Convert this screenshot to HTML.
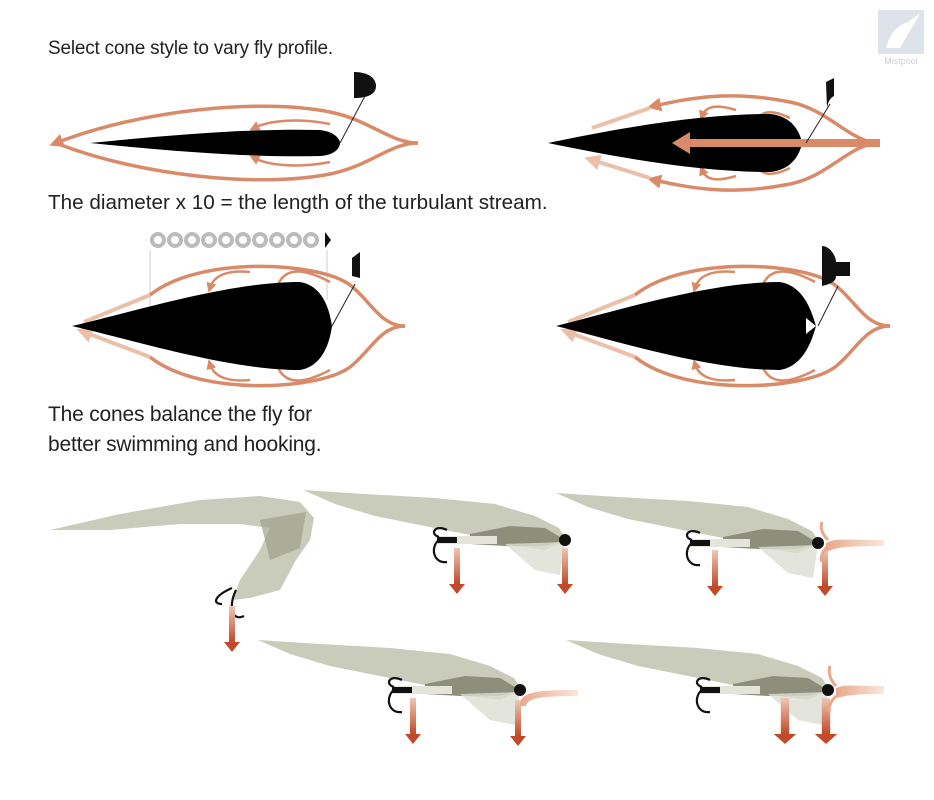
<!DOCTYPE html>
<html><head><meta charset="utf-8"><style>
html,body{margin:0;padding:0;background:#fff;}
body{width:934px;height:800px;overflow:hidden;position:relative;font-family:"Liberation Sans",sans-serif;}
.t{position:absolute;left:48px;font-size:19.5px;color:#222;letter-spacing:-0.2px;}
</style></head><body>
<div class="t" style="top:38px;font-size:19px">Select cone style to vary fly profile.</div>
<div class="t" style="top:191px;font-size:20.7px;letter-spacing:0">The diameter x 10 = the length of the turbulant stream.</div>
<div class="t" style="top:400px;line-height:30px;font-size:21px">The cones balance the fly for<br>better swimming and hooking.</div>
<svg width="934" height="800" style="position:absolute;left:0;top:0" xmlns="http://www.w3.org/2000/svg">
<defs>
<marker id="ah" markerWidth="4" markerHeight="4" refX="2" refY="2" orient="auto" markerUnits="strokeWidth"><path d="M0,0 L4,2 L0,4 z" fill="#d98a68"/></marker>
<marker id="ahl" markerWidth="4" markerHeight="4" refX="2" refY="2" orient="auto" markerUnits="strokeWidth"><path d="M0,0 L4,2 L0,4 z" fill="#ebbfa8"/></marker>
<linearGradient id="dn" x1="0" y1="0" x2="0" y2="1"><stop offset="0" stop-color="#f0c7b5"/><stop offset="1" stop-color="#c04a2a"/></linearGradient>
<linearGradient id="rt" x1="0" y1="0" x2="1" y2="0"><stop offset="0" stop-color="#e9a88c"/><stop offset="1" stop-color="#fbe7dc"/></linearGradient>
<g id="fly">
<path d="M-262,-50 L-200,-46 L-130,-42 L-70,-36 L-30,-24 L-6,-12 L2,0 L-20,10 L-50,6 L-90,-4 L-140,-14 L-190,-24 L-230,-36 Z" fill="#c9cbbb"/>
<path d="M-95,-6 L-55,-14 L-20,-12 L0,0 L-20,6 L-60,6 L-95,4 Z" fill="#8d8f7a"/>
<path d="M-60,4 L-30,30 L-5,35 L0,2 Z" fill="#dcddd2" opacity="0.8"/>
<rect x="-128" y="-4" width="60" height="8" fill="#e4e4da"/>
<rect x="-128" y="-3" width="20" height="6" fill="#111"/>
<path d="M-118,-10 C-130,-16 -136,-6 -126,-3 M-124,-2 C-136,6 -132,24 -118,22" stroke="#111" stroke-width="2.2" fill="none"/>
<ellipse cx="0" cy="0" rx="6" ry="6" fill="#111"/>
</g>
<g id="dar"><rect x="-3" y="0" width="6" height="36" fill="url(#dn)"/><path d="M-8,36 L8,36 L0,46 Z" fill="#c04a2a"/></g>
</defs>

<rect x="878" y="10" width="46" height="44" fill="#dde3e9"/>
<path d="M886,48 C890,34 896,26 908,22 C914,18 918,14 920,14 C914,24 908,34 900,48 Z" fill="#fff"/>
<text x="901" y="64" font-size="9" fill="#c8d0d8" text-anchor="middle" font-family="Liberation Sans,sans-serif">Mistpool</text>

<g fill="none" stroke="#d98a68" stroke-width="3.5">
<path d="M418,143 C390,143 370,120 330,112 C260,98 140,110 56,143" marker-end="url(#ah)"/>
<path d="M418,143 C390,143 370,166 330,174 C260,188 140,176 56,143"/>
<path d="M330,124 C300,118 270,120 254,128" stroke-width="2.5" marker-end="url(#ah)"/>
<path d="M330,162 C300,168 270,166 254,158" stroke-width="2.5" marker-end="url(#ah)"/>
</g>
<path d="M90,143 C160,136 250,128 320,130 C336,132 340,140 340,143 C340,147 336,155 320,156 C250,158 160,150 90,143 Z" fill="#000"/>
<line x1="340" y1="143" x2="365" y2="96" stroke="#222" stroke-width="1"/>
<path d="M354,72 C368,72 376,78 376,86 C376,94 368,98 354,98 Z" fill="#111"/>

<g fill="none" stroke="#d98a68" stroke-width="3.5">
<path d="M880,143 C850,143 830,110 790,102 C730,90 690,98 654,106" marker-end="url(#ah)"/>
<path d="M880,143 C850,143 830,176 790,184 C730,196 690,188 654,180" marker-end="url(#ah)"/>
<path d="M790,118 C770,108 760,112 756,122" stroke-width="2.5" marker-end="url(#ah)"/>
<path d="M790,168 C770,178 760,174 756,164" stroke-width="2.5" marker-end="url(#ah)"/>
<path d="M736,110 C716,104 706,106 702,116" stroke-width="2.5" marker-end="url(#ah)"/>
<path d="M736,176 C716,182 706,180 702,170" stroke-width="2.5" marker-end="url(#ah)"/>
</g>
<path d="M650,108 L592,128 M650,178 L592,160" stroke="#ebbfa8" stroke-width="4" marker-end="url(#ahl)"/>
<path d="M548,143 C620,128 700,114 770,114 C792,116 800,132 802,143 C800,154 792,170 770,172 C700,172 620,158 548,143 Z" fill="#000"/>
<line x1="880" y1="143" x2="686" y2="143" stroke="#d98a68" stroke-width="8"/>
<path d="M690,132 L672,143 L690,154 Z" fill="#d98a68"/>
<line x1="806" y1="143" x2="830" y2="104" stroke="#222" stroke-width="1"/>
<path d="M826,82 L834,78 L834,96 C830,98 828,102 827,108 Z" fill="#111"/>

<g fill="#bbb"><circle cx="158" cy="240" r="8"/><circle cx="175" cy="240" r="8"/><circle cx="192" cy="240" r="8"/><circle cx="209" cy="240" r="8"/><circle cx="226" cy="240" r="8"/><circle cx="243" cy="240" r="8"/><circle cx="260" cy="240" r="8"/><circle cx="277" cy="240" r="8"/><circle cx="294" cy="240" r="8"/><circle cx="311" cy="240" r="8"/></g>
<g fill="#fff"><circle cx="158" cy="240" r="4"/><circle cx="175" cy="240" r="4"/><circle cx="192" cy="240" r="4"/><circle cx="209" cy="240" r="4"/><circle cx="226" cy="240" r="4"/><circle cx="243" cy="240" r="4"/><circle cx="260" cy="240" r="4"/><circle cx="277" cy="240" r="4"/><circle cx="294" cy="240" r="4"/><circle cx="311" cy="240" r="4"/></g>
<path d="M325,232 L331,240 L325,248 Z" fill="#111"/>
<line x1="150" y1="250" x2="150" y2="326" stroke="#ccc" stroke-width="1"/>
<line x1="327" y1="250" x2="327" y2="300" stroke="#ccc" stroke-width="1"/>
<g fill="none" stroke="#d98a68" stroke-width="3.5">
<path d="M405,326 C380,326 370,300 350,285 C320,262 200,255 150,295"/>
<path d="M405,326 C380,326 370,352 350,367 C320,390 200,397 150,357"/>
<path d="M330,282 C300,266 282,268 276,290" stroke-width="2.5" marker-end="url(#ah)"/>
<path d="M330,370 C300,386 282,384 276,362" stroke-width="2.5" marker-end="url(#ah)"/>
<path d="M250,272 C230,270 214,274 210,288" stroke-width="2.5" marker-end="url(#ah)"/>
<path d="M250,380 C230,382 214,378 210,364" stroke-width="2.5" marker-end="url(#ah)"/>
</g>
<path d="M150,295 L84,322 M150,357 L84,332" stroke="#ebbfa8" stroke-width="4" marker-end="url(#ahl)"/>
<path d="M72,326 C140,310 230,282 300,282 C324,286 330,312 332,326 C330,340 324,366 300,370 C230,370 140,342 72,326 Z" fill="#000"/>
<line x1="332" y1="326" x2="355" y2="284" stroke="#222" stroke-width="1"/>
<path d="M352,258 L360,252 L360,278 L352,276 Z" fill="#111"/>

<g fill="none" stroke="#d98a68" stroke-width="3.5">
<path d="M890,326 C865,326 855,300 835,285 C805,262 685,255 635,295"/>
<path d="M890,326 C865,326 855,352 835,367 C805,390 685,397 635,357"/>
<path d="M815,282 C785,266 767,268 761,290" stroke-width="2.5" marker-end="url(#ah)"/>
<path d="M815,370 C785,386 767,384 761,362" stroke-width="2.5" marker-end="url(#ah)"/>
<path d="M735,272 C715,270 699,274 695,288" stroke-width="2.5" marker-end="url(#ah)"/>
<path d="M735,380 C715,382 699,378 695,364" stroke-width="2.5" marker-end="url(#ah)"/>
</g>
<path d="M635,295 L568,322 M635,357 L568,332" stroke="#ebbfa8" stroke-width="4" marker-end="url(#ahl)"/>
<path d="M556,326 C620,310 710,282 780,282 C804,286 812,312 816,326 C812,340 804,366 780,370 C710,370 620,342 556,326 Z" fill="#000"/>
<path d="M806,318 L816,326 L806,334 Z" fill="#fff"/>
<line x1="818" y1="326" x2="838" y2="286" stroke="#222" stroke-width="1"/>
<path d="M822,246 C830,246 836,256 836,262 L850,262 L850,276 L836,276 C836,282 830,284 822,286 Z" fill="#111"/>

<path d="M50,530 L120,514 L200,500 L260,496 L300,502 L314,518 L310,540 L296,560 L280,590 L250,598 L232,600 L240,580 L260,550 L270,528 L240,524 L180,524 L110,530 Z" fill="#c9cbbb"/>
<path d="M260,520 L306,512 L300,548 L270,560 Z" fill="#9ea08c" opacity="0.7"/>
<path d="M232,588 C214,596 212,604 222,604 M236,590 C228,606 232,622 244,616" stroke="#111" stroke-width="2.2" fill="none"/>
<use href="#dar" x="232" y="606"/>

<use href="#fly" x="565" y="540"/>
<use href="#dar" x="457" y="548"/><use href="#dar" x="565" y="548"/>

<use href="#fly" x="818" y="543"/>
<use href="#dar" x="715" y="550"/><use href="#dar" x="825" y="550"/>
<path d="M826,543 C836,538 840,540 884,540 L884,546 C840,546 836,548 826,552 Z" fill="url(#rt)"/>
<path d="M828,540 C822,534 820,528 822,522 M828,546 C822,552 820,558 822,562" stroke="#e9a88c" stroke-width="3" fill="none"/>

<use href="#fly" x="520" y="690"/>
<use href="#dar" x="413" y="698"/><use href="#dar" x="518" y="700"/>
<path d="M520,706 C520,692 535,690 578,690 L578,696 C540,696 528,698 526,706 Z" fill="url(#rt)"/>

<use href="#fly" x="828" y="690"/>
<g transform="translate(785,698) scale(1.4,1)"><use href="#dar"/></g>
<g transform="translate(826,698) scale(1.4,1)"><use href="#dar"/></g>
<path d="M836,688 C846,684 850,686 884,686 L884,694 C850,694 846,696 836,698 Z" fill="url(#rt)"/>
<path d="M836,686 C830,680 828,672 830,666 M836,696 C830,702 828,708 830,712" stroke="#e9a88c" stroke-width="3" fill="none"/>
</svg>
</body></html>
